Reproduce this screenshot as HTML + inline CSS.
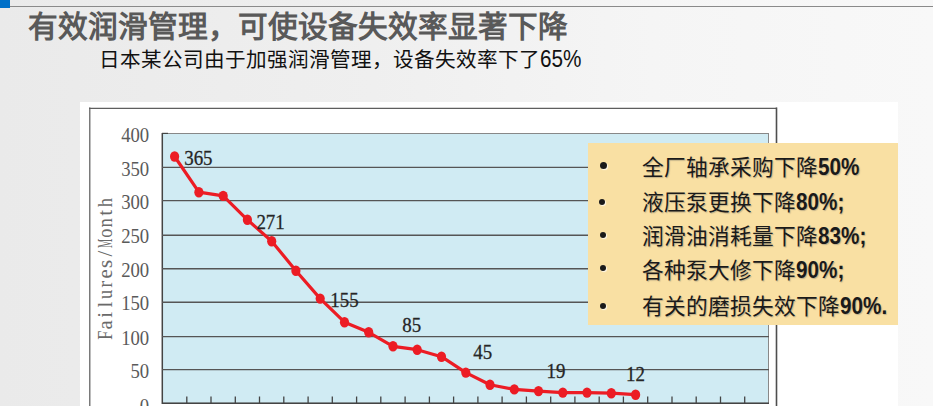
<!DOCTYPE html>
<html lang="zh-CN"><head><meta charset="utf-8">
<style>
html,body{margin:0;padding:0;}
body{width:933px;height:406px;overflow:hidden;position:relative;font-family:"Liberation Sans",sans-serif;
background:linear-gradient(90deg,#eaeaea 0%,#efefef 40%,#f5f5f5 70%,#f8f8f8 100%);}
.bluesq{position:absolute;left:0;top:0;width:10px;height:8px;background:#0070c8;}
.topline{position:absolute;left:10px;top:6px;width:923px;height:1px;background:#8a8a8a;}
.title{position:absolute;left:27.8px;top:6.5px;font-size:29.7px;font-weight:900;color:#595959;white-space:nowrap;line-height:40px;}
.sub{position:absolute;left:98.8px;top:45px;font-size:20.6px;color:#111;white-space:nowrap;line-height:28px;}
.sub .d{display:inline-block;font-size:23px;transform:scaleX(0.9);transform-origin:0 0;}
.white{position:absolute;left:80px;top:101.5px;width:818px;height:305px;background:#fff;}
svg{position:absolute;left:0;top:0;}
.ybox{position:absolute;left:588px;top:142.5px;width:310px;height:182px;background:#f9e0a3;}
.ln{position:absolute;left:0;white-space:nowrap;color:#1a1a1a;text-shadow:1px 1px 1px rgba(90,90,90,0.35);}
.ln{font-size:21.7px;line-height:26px;font-weight:500;}
.ln b{font-weight:700;font-size:23.5px;display:inline-block;transform:scaleX(0.88);transform-origin:0 0;vertical-align:baseline;}
.bul{position:absolute;width:6px;height:6px;border-radius:50%;background:#1a1a1a;box-shadow:1px 1px 1px rgba(255,255,255,0.8);}
</style></head><body>
<div class="bluesq"></div>
<div class="topline"></div>
<div class="title">有效润滑管理，可使设备失效率显著下降</div>
<div class="sub">日本某公司由于加强润滑管理，设备失效率下了<span class="d">65%</span></div>
<div class="white"></div>
<svg width="933" height="406" viewBox="0 0 933 406">
  <line x1="89.75" y1="107.5" x2="89.75" y2="406" stroke="#7a7a7a" stroke-width="1.5"/>
  <line x1="89" y1="108.3" x2="777" y2="108.3" stroke="#5e5e5e" stroke-width="1.3"/>
  <line x1="776.5" y1="107.6" x2="776.5" y2="406" stroke="#4e4e4e" stroke-width="1.6"/>
  <rect x="162.5" y="133.5" width="606" height="269.8" fill="#d0ebf3" stroke="#888" stroke-width="1"/>
  <line x1="162.3" y1="133" x2="162.3" y2="404" stroke="#444" stroke-width="1.5"/>
  <line x1="162" y1="133.4" x2="168" y2="133.4" stroke="#444" stroke-width="1.2"/>
  <line x1="162" y1="403.3" x2="769" y2="403.3" stroke="#444" stroke-width="1.5"/>
  <g stroke="#555" stroke-width="1.4"><line x1="162" y1="167.4" x2="769" y2="167.4"/><line x1="162" y1="200.6" x2="769" y2="200.6"/><line x1="162" y1="235.2" x2="769" y2="235.2"/><line x1="162" y1="268.8" x2="769" y2="268.8"/><line x1="162" y1="302.2" x2="769" y2="302.2"/><line x1="162" y1="336.6" x2="769" y2="336.6"/><line x1="162" y1="369.6" x2="769" y2="369.6"/></g>
  <g stroke="#444" stroke-width="1.3"><line x1="186.8" y1="396.5" x2="186.8" y2="403"/><line x1="211.0" y1="396.5" x2="211.0" y2="403"/><line x1="235.3" y1="396.5" x2="235.3" y2="403"/><line x1="259.5" y1="396.5" x2="259.5" y2="403"/><line x1="283.8" y1="396.5" x2="283.8" y2="403"/><line x1="308.1" y1="396.5" x2="308.1" y2="403"/><line x1="332.3" y1="396.5" x2="332.3" y2="403"/><line x1="356.6" y1="396.5" x2="356.6" y2="403"/><line x1="380.8" y1="396.5" x2="380.8" y2="403"/><line x1="405.1" y1="396.5" x2="405.1" y2="403"/><line x1="429.4" y1="396.5" x2="429.4" y2="403"/><line x1="453.6" y1="396.5" x2="453.6" y2="403"/><line x1="477.9" y1="396.5" x2="477.9" y2="403"/><line x1="502.1" y1="396.5" x2="502.1" y2="403"/><line x1="526.4" y1="396.5" x2="526.4" y2="403"/><line x1="550.7" y1="396.5" x2="550.7" y2="403"/><line x1="574.9" y1="396.5" x2="574.9" y2="403"/><line x1="599.2" y1="396.5" x2="599.2" y2="403"/><line x1="623.4" y1="396.5" x2="623.4" y2="403"/><line x1="647.7" y1="396.5" x2="647.7" y2="403"/><line x1="672.0" y1="396.5" x2="672.0" y2="403"/><line x1="696.2" y1="396.5" x2="696.2" y2="403"/><line x1="720.5" y1="396.5" x2="720.5" y2="403"/><line x1="744.7" y1="396.5" x2="744.7" y2="403"/></g>
  <polyline fill="none" stroke="#ec1c24" stroke-width="3.2" stroke-linejoin="round" points="174.6,156.5 198.9,192.2 223.2,195.9 247.4,219.8 271.7,241.2 295.9,270.8 320.2,298.6 344.5,322.2 368.7,332.3 393.0,346.3 417.2,349.7 441.5,356.7 465.8,372.6 490.0,384.7 514.3,389.4 538.5,391.1 562.8,392.6 587.0,392.6 611.3,393.2 635.6,394.7"/>
  <g fill="#ec1c24"><ellipse cx="174.6" cy="156.5" rx="4.6" ry="5.2"/><ellipse cx="198.9" cy="192.2" rx="4.6" ry="5.2"/><ellipse cx="223.2" cy="195.9" rx="4.6" ry="5.2"/><ellipse cx="247.4" cy="219.8" rx="4.6" ry="5.2"/><ellipse cx="271.7" cy="241.2" rx="4.6" ry="5.2"/><ellipse cx="295.9" cy="270.8" rx="4.6" ry="5.2"/><ellipse cx="320.2" cy="298.6" rx="4.6" ry="5.2"/><ellipse cx="344.5" cy="322.2" rx="4.6" ry="5.2"/><ellipse cx="368.7" cy="332.3" rx="4.6" ry="5.2"/><ellipse cx="393.0" cy="346.3" rx="4.6" ry="5.2"/><ellipse cx="417.2" cy="349.7" rx="4.6" ry="5.2"/><ellipse cx="441.5" cy="356.7" rx="4.6" ry="5.2"/><ellipse cx="465.8" cy="372.6" rx="4.6" ry="5.2"/><ellipse cx="490.0" cy="384.7" rx="4.6" ry="5.2"/><ellipse cx="514.3" cy="389.4" rx="4.6" ry="5.2"/><ellipse cx="538.5" cy="391.1" rx="4.6" ry="5.2"/><ellipse cx="562.8" cy="392.6" rx="4.6" ry="5.2"/><ellipse cx="587.0" cy="392.6" rx="4.6" ry="5.2"/><ellipse cx="611.3" cy="393.2" rx="4.6" ry="5.2"/><ellipse cx="635.6" cy="394.7" rx="4.6" ry="5.2"/></g>
  <g font-family="Liberation Serif" font-size="21.5" fill="#5a5a5a" text-anchor="end"><text transform="translate(149.2,141.6) scale(0.87,1)">400</text><text transform="translate(149.2,175.6) scale(0.87,1)">350</text><text transform="translate(149.2,208.8) scale(0.87,1)">300</text><text transform="translate(149.2,243.4) scale(0.87,1)">250</text><text transform="translate(149.2,277.0) scale(0.87,1)">200</text><text transform="translate(149.2,310.4) scale(0.87,1)">150</text><text transform="translate(149.2,344.8) scale(0.87,1)">100</text><text transform="translate(149.2,377.8) scale(0.87,1)">50</text><text transform="translate(149.2,412.8) scale(0.87,1)">0</text></g>
  <g font-family="Liberation Serif" font-size="21.5" fill="#262626" stroke="#262626" stroke-width="0.3"><text transform="translate(184.2,164.8) scale(0.88,1)">365</text><text transform="translate(256.4,229.3) scale(0.88,1)">271</text><text transform="translate(330.3,307.2) scale(0.88,1)">155</text><text transform="translate(402.2,331.5) scale(0.88,1)">85</text><text transform="translate(473.3,359.0) scale(0.88,1)">45</text><text transform="translate(546.6,377.6) scale(0.88,1)">19</text><text transform="translate(626.1,381.4) scale(0.88,1)">12</text></g>
  <g transform="translate(112.4,268.9) rotate(-90)" font-family="Liberation Serif" font-size="21" fill="#6a6a6a" text-anchor="middle"><text transform="translate(-66.30,0) scale(0.788,1)">F</text><text transform="translate(-56.10,0) scale(0.987,1)">a</text><text transform="translate(-45.90,0) scale(1.000,1)">i</text><text transform="translate(-35.70,0) scale(1.000,1)">l</text><text transform="translate(-25.50,0) scale(0.876,1)">u</text><text transform="translate(-15.30,0) scale(1.000,1)">r</text><text transform="translate(-5.10,0) scale(0.987,1)">e</text><text transform="translate(5.10,0) scale(1.000,1)">s</text><text transform="translate(15.30,0) scale(1.000,1)">/</text><text transform="translate(25.50,0) scale(0.493,1)">M</text><text transform="translate(35.70,0) scale(0.876,1)">o</text><text transform="translate(45.90,0) scale(0.876,1)">n</text><text transform="translate(56.10,0) scale(1.000,1)">t</text><text transform="translate(66.30,0) scale(0.876,1)">h</text></g>
</svg>
<div class="ybox">
  <div class="bul" style="left:12px;top:19px;width:7px;height:7px"></div>
  <div class="bul" style="left:11px;top:56.5px"></div>
  <div class="bul" style="left:11.6px;top:89.5px"></div>
  <div class="bul" style="left:11.6px;top:122px"></div>
  <div class="bul" style="left:11.6px;top:160.5px"></div>
  <div class="ln" style="top:11.2px;left:54px">全厂轴承采购下降<b>50%</b></div>
  <div class="ln" style="top:46.8px;left:54px">液压泵更换下降<b>80%;</b></div>
  <div class="ln" style="top:80px;left:54px">润滑油消耗量下降<b>83%;</b></div>
  <div class="ln" style="top:114px;left:54px">各种泵大修下降<b>90%;</b></div>
  <div class="ln" style="top:150.6px;left:54px">有关的磨损失效下降<b>90%.</b></div>
</div>
</body></html>
